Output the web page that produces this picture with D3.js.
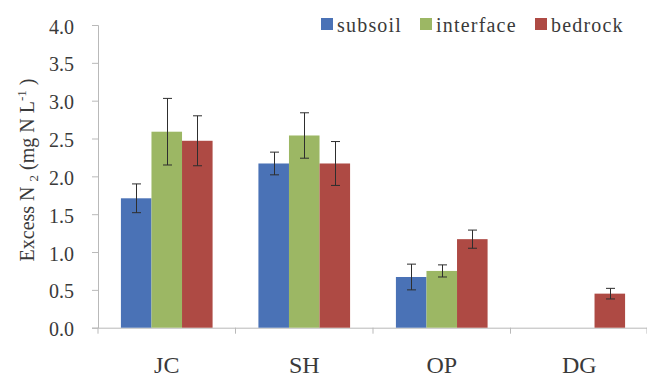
<!DOCTYPE html>
<html>
<head>
<meta charset="utf-8">
<script src="https://cdn.jsdelivr.net/npm/d3@7/dist/d3.min.js"></script>
<style>
  html, body { margin: 0; padding: 0; background: #fff; }
  svg { display: block; }
</style>
</head>
<body>
<svg id="chart" width="647" height="377"></svg>
<script>
// Sites along the x axis
const sites = ["JC", "SH", "OP", "DG"];
// Sampling layers (series)
const layers = ["subsoil", "interface", "bedrock"];
// Mean excess N2 per layer, in site order (null = not measured)
const subsoil   = [1.71, 2.17, 0.67, null];
const interfaceVals = [2.59, 2.54, 0.75, null];
const bedrock   = [2.47, 2.17, 1.17, 0.45];
// Error bar half-widths
const subsoilErr   = [0.19, 0.15, 0.17, null];
const interfaceErr = [0.44, 0.30, 0.08, null];
const bedrockErr   = [0.33, 0.29, 0.12, 0.07];
// Y axis ticks
const yTicks = [0, 0.5, 1.0, 1.5, 2.0, 2.5, 3.0, 3.5, 4.0];

const colors = { subsoil: "#4a72b6", interface: "#9cb764", bedrock: "#ae4a44" };

const values = { subsoil: subsoil, interface: interfaceVals, bedrock: bedrock };
const errors = { subsoil: subsoilErr, interface: interfaceErr, bedrock: bedrockErr };

const SERIF = "'Liberation Serif', 'Times New Roman', serif";
const textColor = "#3a3a3a";

const svg = d3.select("#chart");
const plotLeft = 98, plotRight = 648, plotTop = 25, plotBottom = 327.7;

const x = d3.scaleBand().domain(sites).range([plotLeft, plotRight]).paddingInner(0).paddingOuter(0);
const xs = d3.scaleBand().domain(layers).range([0, x.bandwidth()]).paddingInner(0).paddingOuter(0.75);
const y = d3.scaleLinear().domain([0, 4]).range([plotBottom, plotTop]);

const axisColor = "#b9b9b9";

// Y axis
const yAxis = svg.append("g").attr("transform", `translate(${plotLeft},0)`)
  .call(d3.axisLeft(y).tickValues(yTicks).tickFormat(d3.format(".1f")).tickSize(6).tickPadding(18));
yAxis.attr("font-family", null);
yAxis.select(".domain").attr("stroke", axisColor);
yAxis.selectAll(".tick line").attr("stroke", axisColor);
yAxis.selectAll(".tick text")
  .style("font-family", SERIF)
  .style("font-size", "20px")
  .style("fill", textColor)
  .attr("dy", "0.4em");

// X axis
const xAxis = svg.append("g").attr("transform", `translate(0,${plotBottom})`)
  .call(d3.axisBottom(x).tickSize(0).tickPadding(30));
xAxis.attr("font-family", null);
xAxis.select(".domain").attr("stroke", axisColor);
xAxis.selectAll(".tick text")
  .style("font-family", SERIF)
  .style("font-size", "24px")
  .style("fill", textColor)
  .attr("dy", "0.63em");
// Category separators on the x axis
const seps = sites.map(s => x(s)).concat([plotRight - 1]);
svg.append("g").selectAll("line").data(seps).join("line")
  .attr("x1", d => d).attr("x2", d => d)
  .attr("y1", plotBottom).attr("y2", plotBottom + 6)
  .attr("stroke", axisColor);

// Bars
const barData = [];
layers.forEach(l => {
  sites.forEach((s, i) => {
    if (values[l][i] != null) barData.push({ site: s, layer: l, v: values[l][i], e: errors[l][i] });
  });
});

svg.append("g").selectAll("rect").data(barData).join("rect")
  .attr("x", d => x(d.site) + xs(d.layer))
  .attr("width", xs.bandwidth())
  .attr("y", d => y(d.v))
  .attr("height", d => y(0) - y(d.v))
  .attr("fill", d => colors[d.layer]);

// Error bars
const eb = svg.append("g").attr("stroke", "#2e2e2e").attr("stroke-width", 1);
const cap = 4.5;
barData.forEach(d => {
  const cx = Math.round(x(d.site) + xs(d.layer) + xs.bandwidth() / 2) + 0.5;
  const y1 = y(d.v + d.e), y2 = y(d.v - d.e);
  eb.append("line").attr("x1", cx).attr("x2", cx).attr("y1", y1).attr("y2", y2);
  eb.append("line").attr("x1", cx - cap).attr("x2", cx + cap).attr("y1", y1).attr("y2", y1);
  eb.append("line").attr("x1", cx - cap).attr("x2", cx + cap).attr("y1", y2).attr("y2", y2);
});

// Legend
const legendX = [321, 420, 535];
const lg = svg.append("g");
layers.forEach((l, i) => {
  lg.append("rect").attr("x", legendX[i]).attr("y", 18).attr("width", 12).attr("height", 12)
    .attr("fill", colors[l]);
  lg.append("text").attr("x", legendX[i] + 16).attr("y", 31.5)
    .style("font-family", SERIF).style("font-size", "20px").style("fill", textColor)
    .style("letter-spacing", "1.2px").text(l);
});

// Y axis title
const title = svg.append("text")
  .attr("transform", `translate(34,${(47 + 293) / 2}) rotate(-90)`)
  .attr("text-anchor", "middle")
  .style("font-family", SERIF).style("font-size", "20px").style("fill", textColor);
title.append("tspan").text("Excess N ");
title.append("tspan").style("font-size", "13px").attr("dy", "4").text("2");
title.append("tspan").attr("dy", "-4").text(" (mg N L");
title.append("tspan").style("font-size", "13px").attr("dy", "-8").text("-1");
title.append("tspan").attr("dy", "8").text(" )");
</script>
</body>
</html>
